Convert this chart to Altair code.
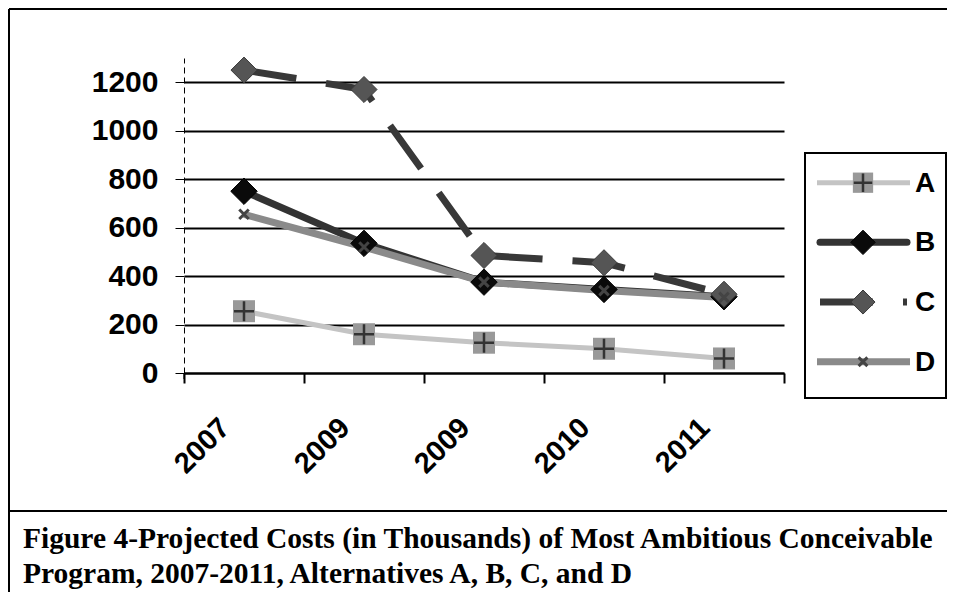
import altair as alt
import pandas as pd

# ---- data ----
years = ["2007", "2009", "2009", "2010", "2011"]
series_names = ["A", "B", "C", "D"]
values_a = [255, 160, 125, 100, 60]
values_b = [750, 535, 375, 345, 315]
values_c = [1250, 1170, 485, 455, 325]
values_d = [655, 520, 375, 340, 312]
y_ticks = [0, 200, 400, 600, 800, 1000, 1200]
caption_lines = [
    "Figure 4-Projected Costs (in Thousands) of Most Ambitious Conceivable",
    "Program, 2007-2011, Alternatives A, B, C, and D",
]

rows = []
for name, vals in zip(series_names, [values_a, values_b, values_c, values_d]):
    for i, v in enumerate(vals):
        rows.append({"idx": i, "series": name, "value": v})
df = pd.DataFrame(rows)
legend_df = pd.DataFrame({"series": series_names})
one = pd.DataFrame({"k": [0]})

FONT = "Liberation Sans"
SERIF = "Liberation Serif"

label_expr = "[" + ",".join("'%s'" % y for y in years) + "][datum.value]"

x_enc = alt.X(
    "idx:O",
    scale=alt.Scale(type="band", paddingInner=0, paddingOuter=0),
    axis=alt.Axis(
        title=None, labelExpr=label_expr, labelAngle=-45, labelAlign="right",
        labelBaseline="alphabetic", labelPadding=46, labelOffset=-13, labelFont=FONT,
        labelFontWeight="bold", labelFontSize=29, labelColor="black",
        tickBand="extent", tickSize=10, tickWidth=2, tickColor="black",
        domainColor="black", domainWidth=2, grid=False,
    ),
)

y_scale = alt.Scale(domain=[0, 1300], nice=False, zero=True)
y_axis = alt.Axis(
    title=None, values=y_ticks, format="d", labelFont=FONT, labelFontWeight="bold",
    labelFontSize=30, labelColor="black", labelPadding=17,
    tickSize=9, tickWidth=1, tickColor="black",
    domainColor="black", domainWidth=1, domainDash=[6, 4],
    grid=True, gridColor="black", gridWidth=2,
)


def y_enc(with_axis=False):
    return alt.Y("value:Q", scale=y_scale, axis=y_axis if with_axis else None)


base = alt.Chart(df)

styles = {
    "A": dict(line="#c4c4c4", width=5, dash=None),
    "B": dict(line="#333333", width=7, dash=None),
    "C": dict(line="#383838", width=7, dash=[53, 30]),
    "D": dict(line="#8a8a8a", width=7, dash=None),
}

layers = []
first = True
for s in series_names:
    st = styles[s]
    kw = dict(color=st["line"], strokeWidth=st["width"], clip=False)
    if st["dash"]:
        kw["strokeDash"] = st["dash"]
    layers.append(
        base.transform_filter(alt.datum.series == s)
        .mark_line(**kw)
        .encode(x=x_enc, y=y_enc(first))
    )
    first = False

# dashed continuation of the value axis below zero, as in the reference
layers.append(alt.Chart(one).mark_rule(color="black", strokeWidth=1, strokeDash=[6, 4]).encode(
    x=alt.value(0), y=alt.value(315), y2=alt.value(325)))

CROSS = "M-1,0L1,0M0,-1L0,1"
XMARK = "M-1,-1L1,1M-1,1L1,-1"


def marker_specs(scale_factor=1.0):
    f = scale_factor
    return {
        "A": [
            dict(shape="square", filled=True, size=484 * f, fill="#999999", strokeWidth=0, opacity=1),
            dict(shape=CROSS, filled=False, size=400 * f, stroke="#333333", strokeWidth=2.5, opacity=1),
        ],
        "B": [dict(shape="diamond", filled=True, size=700 * f, fill="#0a0a0a", stroke="#000000", strokeWidth=1, opacity=1)],
        "C": [dict(shape="diamond", filled=True, size=680 * f, fill="#555555", stroke="#3a3a3a", strokeWidth=1, opacity=1)],
        "D": [dict(shape=XMARK, filled=False, size=90 * f, stroke="#444444", strokeWidth=3, opacity=1)],
    }


for s in series_names:
    for spec in marker_specs()[s]:
        layers.append(
            base.transform_filter(alt.datum.series == s)
            .mark_point(clip=False, **spec)
            .encode(x=x_enc, y=y_enc())
        )

# ---- legend (entries placed through a point scale on the series names) ----
leg_y = alt.Y(
    "series:N",
    scale=alt.Scale(type="point", domain=series_names, range=[124.7, 303.7], padding=0),
    axis=None,
)
leg = alt.Chart(legend_df)
layers.append(
    alt.Chart(one).mark_rect(fill=None, stroke="black", strokeWidth=2).encode(
        x=alt.value(621), x2=alt.value(762), y=alt.value(95), y2=alt.value(340)
    )
)
for s in series_names:
    st = styles[s]
    kw = dict(color=st["line"], strokeWidth=st["width"])
    if st["dash"]:
        kw["strokeDash"] = st["dash"]
        x1, x2 = 636, 723
    else:
        x1, x2 = 633, 726
    if s == "B":
        kw["strokeCap"] = "round"
        x1, x2 = 636, 723
    layers.append(
        leg.transform_filter(alt.datum.series == s)
        .mark_rule(**kw)
        .encode(x=alt.value(x1), x2=alt.value(x2), y=leg_y)
    )
    for spec in marker_specs(0.85)[s]:
        layers.append(
            leg.transform_filter(alt.datum.series == s)
            .mark_point(**spec)
            .encode(x=alt.value(679), y=leg_y)
        )
layers.append(
    leg.mark_text(align="left", baseline="middle", font=FONT, fontWeight="bold",
                  fontSize=28, color="black", dy=1)
    .encode(x=alt.value(731), y=leg_y, text="series:N")
)

# ---- frame and caption ----
layers.append(alt.Chart(one).mark_rule(color="black", strokeWidth=2).encode(
    x=alt.value(-175), y=alt.value(-49), y2=alt.value(540)))
layers.append(alt.Chart(one).mark_rule(color="black", strokeWidth=2).encode(
    x=alt.value(-175), x2=alt.value(770), y=alt.value(-49)))
layers.append(alt.Chart(one).mark_rule(color="black", strokeWidth=2).encode(
    x=alt.value(-175), x2=alt.value(770), y=alt.value(453)))
for i, line in enumerate(caption_lines):
    layers.append(
        alt.Chart(pd.DataFrame({"t": [line]}))
        .mark_text(align="left", baseline="alphabetic", font=SERIF, fontWeight="bold",
                   fontSize=29.5, color="black")
        .encode(x=alt.value(-161), y=alt.value(490 + 35 * i), text="t:N")
    )

chart = (
    alt.layer(*layers)
    .resolve_scale(y="independent")
    .properties(
        width=600, height=315,
        padding={"left": 176, "top": 50, "right": 163, "bottom": 219},
        autosize=alt.AutoSizeParams(type="none"),
        background="white",
    )
    .configure_view(strokeWidth=0)
)

chart.save("out.html", embed_options={"renderer": "svg", "actions": False})
